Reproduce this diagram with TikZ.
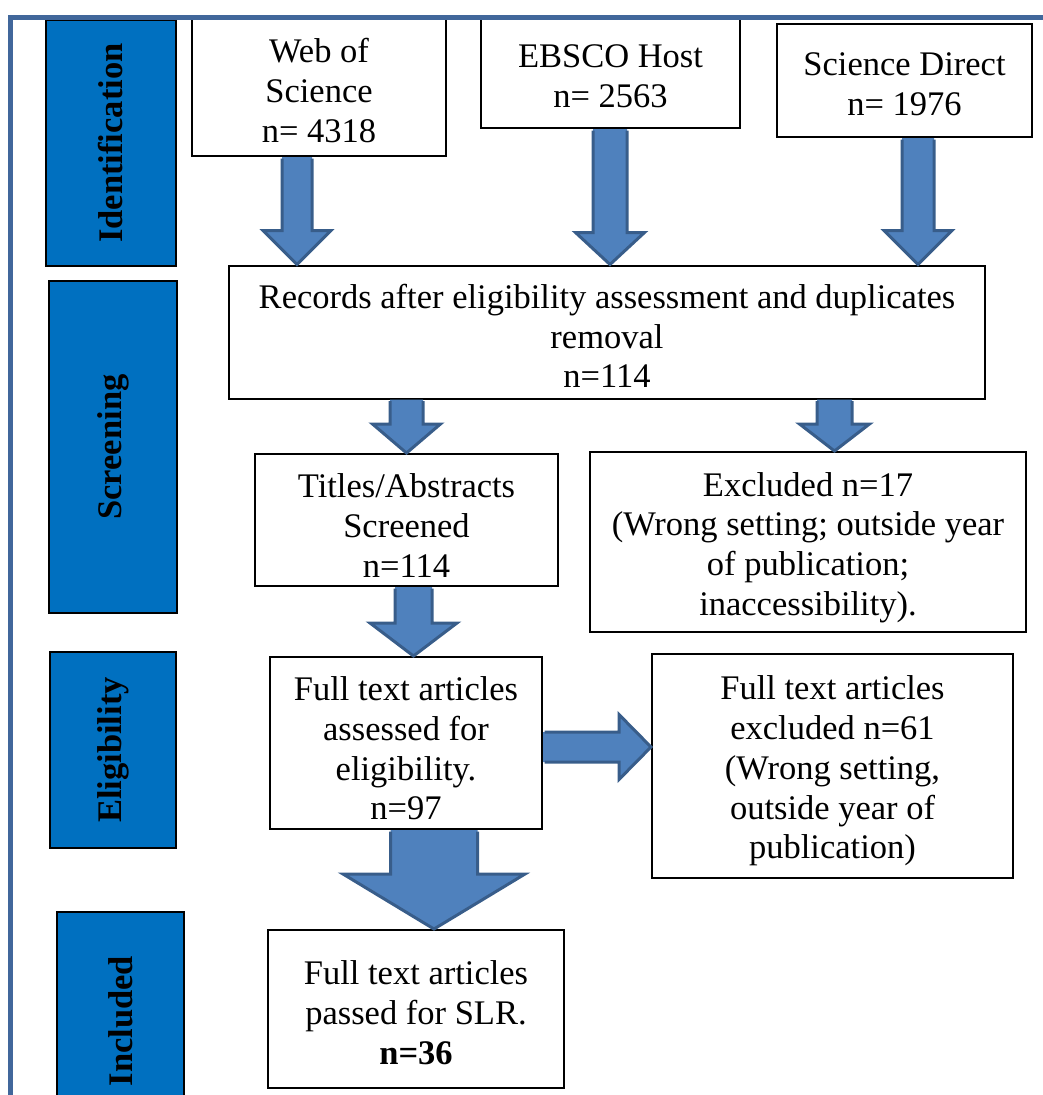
\documentclass[tikz,border=0pt]{standalone}
\usepackage{fontspec}
\setmainfont{Liberation Serif}
\definecolor{framec}{HTML}{41679B}
\definecolor{sidec}{HTML}{0070C0}
\definecolor{arrfill}{HTML}{4F81BD}
\definecolor{arrline}{HTML}{385D8A}
\tikzset{
  box/.style={draw=black, line width=2pt, fill=white, inner sep=0pt},
  txt/.style={inner sep=0pt, align=center, font=\fontsize{34.5}{39.7}\selectfont},
  side/.style={draw=black, line width=2pt, fill=sidec, inner sep=0pt},
  sidetext/.style={rotate=90, inner sep=0pt, font=\fontsize{34.5}{39.7}\selectfont\bfseries},
  arrowbody/.style={fill=arrfill},
  arrowedge/.style={draw=arrline, line width=3pt, line join=miter},
}
% down block arrow: #1 start (x and top y), #2 end (tip y), #3 shaft half, #4 head half, #5 head length
\newcommand\blkdown[5]{%
  \fill[arrowbody] let \p1=#1, \p2=#2 in
    (\x1-#3pt,\y1) -- (\x1-#3pt,\y2+#5pt) -- (\x1-#4pt,\y2+#5pt) -- (\x1,\y2)
    -- (\x1+#4pt,\y2+#5pt) -- (\x1+#3pt,\y2+#5pt) -- (\x1+#3pt,\y1) -- cycle;
  \draw[arrowedge] let \p1=#1, \p2=#2 in
    (\x1-#3pt,\y1-1.5pt) -- (\x1-#3pt,\y2+#5pt) -- (\x1-#4pt,\y2+#5pt) -- (\x1,\y2)
    -- (\x1+#4pt,\y2+#5pt) -- (\x1+#3pt,\y2+#5pt) -- (\x1+#3pt,\y1-1.5pt);}
% right block arrow
\newcommand\blkright[5]{%
  \fill[arrowbody] let \p1=#1, \p2=#2 in
    (\x1,\y1+#3pt) -- (\x2-#5pt,\y1+#3pt) -- (\x2-#5pt,\y1+#4pt) -- (\x2,\y1)
    -- (\x2-#5pt,\y1-#4pt) -- (\x2-#5pt,\y1-#3pt) -- (\x1,\y1-#3pt) -- cycle;
  \draw[arrowedge] let \p1=#1, \p2=#2 in
    (\x1+1.5pt,\y1+#3pt) -- (\x2-#5pt,\y1+#3pt) -- (\x2-#5pt,\y1+#4pt) -- (\x2,\y1)
    -- (\x2-#5pt,\y1-#4pt) -- (\x2-#5pt,\y1-#3pt) -- (\x1+1.5pt,\y1-#3pt);}
\usetikzlibrary{calc}
\begin{document}
\begin{tikzpicture}[x=1pt,y=-1pt]
\useasboundingbox (0,0) rectangle (1043,1095);
\clip (0,0) rectangle (1043,1095);

% phase boxes
\node[side, minimum width=130pt, minimum height=246pt] (ident) at (111,143) {};
\node[sidetext] (identt) at (ident.center) {Identification};
\node[side, minimum width=128pt, minimum height=332pt] (screen) at (113,447) {};
\node[sidetext] (screent) at (screen.center) {Screening};
\node[side, minimum width=126pt, minimum height=196pt] (elig) at (113,750) {};
\node[sidetext] (eligt) at (elig.center) {Eligibility};
\node[side, minimum width=127pt, minimum height=218pt] (incl) at (120.5,1021) {};
\node[sidetext] (inclt) at (incl.center) {Included};

% flow boxes
\node[box, minimum width=254pt, minimum height=138pt] (wos) at (319,87) {};
\node[txt] (wost) at ([yshift=-3.5pt]wos.center) {Web of\\Science\\n= 4318};
\node[box, minimum width=259pt, minimum height=110pt] (ebsco) at (610.5,73) {};
\node[txt] (ebscot) at ([yshift=-3.5pt]ebsco.center) {EBSCO Host\\n= 2563};
\node[box, minimum width=255pt, minimum height=113pt] (sd) at (904.5,80.5) {};
\node[txt] (sdt) at ([yshift=-4pt]sd.center) {Science Direct\\n= 1976};
\node[box, minimum width=756pt, minimum height=133pt] (rec) at (607,332) {};
\node[txt] (rect) at ([yshift=-4pt]rec.center) {Records after eligibility assessment and duplicates\\removal\\n=114};
\node[box, minimum width=303pt, minimum height=132pt] (titles) at (406.5,520) {};
\node[txt] (titlest) at ([yshift=-5.5pt]titles.center) {Titles/Abstracts\\Screened\\n=114};
\node[box, minimum width=436pt, minimum height=180pt] (excl) at (808,542) {};
\node[txt] (exclt) at ([yshift=-5.5pt]excl.center) {Excluded n=17\\(Wrong setting; outside year\\of publication;\\inaccessibility).};
\node[box, minimum width=272pt, minimum height=172pt] (fta) at (406,743) {};
\node[txt] (ftat) at ([yshift=-5.5pt]fta.center) {Full text articles\\assessed for\\eligibility.\\n=97};
\node[box, minimum width=361pt, minimum height=224pt] (fte) at (832.5,766) {};
\node[txt] (ftet) at ([yshift=-5pt]fte.center) {Full text articles\\excluded n=61\\(Wrong setting,\\outside year of\\publication)};
\node[box, minimum width=296pt, minimum height=158pt] (pass) at (416,1009) {};
\node[txt] (passt) at ([yshift=-3.5pt]pass.center) {Full text articles\\passed for SLR.\\\textbf{n=36}};

% block arrows
\blkdown{([xshift=-22pt]wos.south)}{(rec.north)}{15}{34}{34}
\blkdown{([xshift=-0.5pt]ebsco.south)}{(rec.north)}{17}{34.5}{32}
\blkdown{([xshift=13.5pt]sd.south)}{(rec.north)}{16}{34}{34}
\blkdown{(rec.south -| titles.north)}{(titles.north)}{16.5}{34}{29}
\blkdown{([xshift=227.5pt]rec.south)}{(excl.north)}{17.5}{35}{27}
\blkdown{([xshift=7pt]titles.south)}{(fta.north)}{18.5}{43.5}{33}
\blkright{([yshift=-4pt]fta.east)}{(fte.west)}{15}{32.5}{32}
\blkdown{([xshift=28pt]fta.south)}{(pass.north)}{43.5}{91}{55}

% outer frame
\draw[framec, line width=5pt] (10,1110) -- (10,17) -- (1060,17);
\end{tikzpicture}
\end{document}
